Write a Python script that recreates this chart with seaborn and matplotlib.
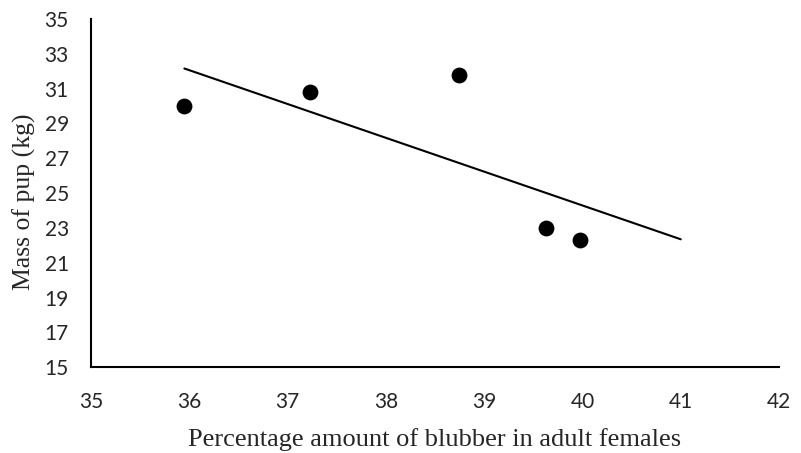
import numpy as np
import pandas as pd
import matplotlib
matplotlib.use("Agg")
import matplotlib.pyplot as plt
import seaborn as sns

blubber_pct = [35.95, 37.23, 38.74, 39.63, 39.98]
pup_mass = [30.0, 30.8, 31.8, 23.0, 22.3]
x_ticks = [35, 36, 37, 38, 39, 40, 41, 42]
y_ticks = [15, 17, 19, 21, 23, 25, 27, 29, 31, 33, 35]
trend_end = 41

df = pd.DataFrame({"x": blubber_pct, "y": pup_mass})

sns.set_style("white")
fig = plt.figure(figsize=(8.01, 4.53), dpi=100)
ax = fig.add_axes([0.1136, 0.1892, 0.859, 0.769])

sns.scatterplot(data=df, x="x", y="y", ax=ax, color="black", s=130,
                edgecolor="black", linewidth=0, zorder=3)

slope, intercept = np.polyfit(df["x"], df["y"], 1)
tx = np.array([min(blubber_pct), trend_end])
sns.lineplot(x=tx, y=slope * tx + intercept, ax=ax, color="black", linewidth=1.5)

ax.set_xlim(35, 42)
ax.set_ylim(15, 35)
ax.set_xticks(x_ticks)
ax.set_yticks(y_ticks)
for s in ["top", "right"]:
    ax.spines[s].set_visible(False)
for s in ["left", "bottom"]:
    ax.spines[s].set_color("black")
    ax.spines[s].set_linewidth(1.5)
ax.tick_params(direction="in", length=7, width=1.5, color="black",
               labelsize=15)
for lab in ax.get_xticklabels() + ax.get_yticklabels():
    lab.set_fontfamily("Lato")
ax.tick_params(axis="x", pad=18)
ax.tick_params(axis="y", pad=16)
ax.set_xlabel("Percentage amount of blubber in adult females",
              fontfamily="Liberation Serif", fontsize=19, labelpad=11)
ax.set_ylabel("Mass of pup (kg)", fontfamily="Liberation Serif", fontsize=18.5,
              labelpad=6, y=0.475)
ax.grid(False)
fig.savefig("out.png", dpi=100)
